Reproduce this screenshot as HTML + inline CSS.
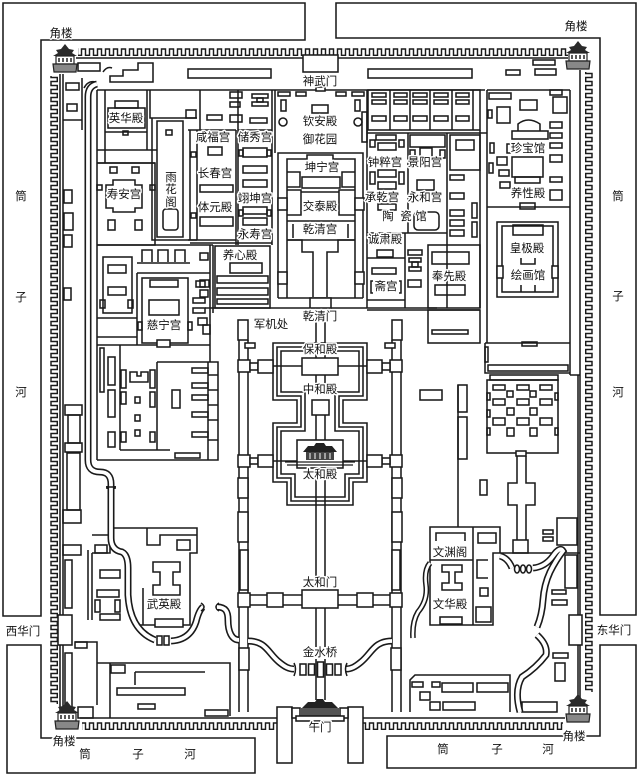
<!DOCTYPE html>
<html><head><meta charset="utf-8">
<style>
html,body{margin:0;padding:0;background:#fff;}
svg{display:block}
.l{fill:none;stroke:#1a1a1a;stroke-width:1.55}
.w{fill:#fff;stroke:#1a1a1a;stroke-width:1.55}
.t{font-family:"Liberation Sans","Noto Sans CJK SC",sans-serif;font-size:11.5px;fill:#111;text-anchor:middle;dominant-baseline:central;stroke:#fff;stroke-width:3px;paint-order:stroke;stroke-linejoin:round}
.rv{fill:none;stroke:#1a1a1a;stroke-width:7}
.rw{fill:none;stroke:#fff;stroke-width:3.8}
.rv2{fill:none;stroke:#1a1a1a;stroke-width:5.6}
.rw2{fill:none;stroke:#fff;stroke-width:2.6}
</style></head><body>
<svg width="640" height="776" viewBox="0 0 640 776" xmlns="http://www.w3.org/2000/svg">
<defs>
<pattern id="ct" x="0" y="48" width="8" height="8" patternUnits="userSpaceOnUse"><path d="M0,7.3 H1.5 V1 H5.5 V7.3 H8" fill="none" stroke="#1a1a1a" stroke-width="1.45"/></pattern>
<pattern id="cb" x="0" y="722" width="8" height="8" patternUnits="userSpaceOnUse"><path d="M0,7.3 H1.5 V1 H5.5 V7.3 H8" fill="none" stroke="#1a1a1a" stroke-width="1.45"/></pattern>
<pattern id="cl" x="50" y="0" width="8" height="8" patternUnits="userSpaceOnUse"><path d="M7.3,0 V1.5 H1 V5.5 H7.3 V8" fill="none" stroke="#1a1a1a" stroke-width="1.45"/></pattern>
<pattern id="cr" x="585" y="0" width="8" height="8" patternUnits="userSpaceOnUse"><path d="M0.7,0 V1.5 H7 V5.5 H0.7 V8" fill="none" stroke="#1a1a1a" stroke-width="1.45"/></pattern>
</defs>
<rect width="640" height="776" fill="#fff"/>

<!-- moat -->
<path class="l" d="M3,3 H305 V40 H41 V616 H3 Z"/>
<path class="l" d="M336,3 H636 V615 H600 V38 H336 Z"/>
<path class="l" d="M7,645 H41 V738 H255 V773 H7 Z"/>
<path class="l" d="M387,736 H600 V645 H636 V768 H387 Z"/>

<!-- walls -->
<rect x="78" y="48" width="490" height="8" fill="url(#ct)"/>
<path class="l" d="M76,58 H303 M338,58 H568"/>
<rect class="w" x="303" y="55" width="35" height="17"/>
<rect x="50" y="76" width="8" height="628" fill="url(#cl)"/>
<path class="l" d="M60,74 V712 M63,74 V712"/>
<rect x="585" y="72" width="8" height="620" fill="url(#cr)"/>
<path class="l" d="M580,70 V715"/>
<rect x="82" y="722" width="195" height="8" fill="url(#cb)"/>
<rect x="363" y="722" width="200" height="8" fill="url(#cb)"/>
<path class="l" d="M80,718 H277 M363,718 H565"/>

<!-- top strip -->
<rect class="l" x="78" y="63" width="22" height="8"/>
<path class="l" d="M110,82 V76 H123 V70 H138 V63 H153 V82 Z"/>
<path class="l" d="M103,72 q4,-6 9,-4 M84,88 q4,-8 12,-6"/>
<rect class="l" x="188" y="69" width="83" height="9"/>
<rect class="l" x="368" y="69" width="104" height="9"/>
<rect class="l" x="506" y="70" width="14" height="5"/>
<rect class="l" x="533" y="60" width="22" height="5"/>
<rect class="l" x="535" y="69" width="21" height="6"/>
<rect class="l" x="66" y="83" width="13" height="7"/>
<rect class="l" x="67" y="104" width="10" height="7"/>
<path class="l" d="M63,120 H82 M82,78 V130"/>
<rect class="l" x="64" y="190" width="8" height="13"/>
<rect class="l" x="64" y="213" width="9" height="17"/>
<rect class="l" x="64" y="235" width="8" height="12"/>
<rect class="l" x="64" y="288" width="7" height="12"/>
<rect class="l" x="65" y="405" width="17" height="10"/>
<rect class="l" x="68" y="415" width="12" height="28"/>
<rect class="l" x="65" y="443" width="17" height="9"/>
<rect class="l" x="67" y="453" width="13" height="57"/>

<!-- main inner lines -->
<path class="l" d="M97,90 H485 M97,90 V460"/>
<rect class="w" x="316" y="87" width="9" height="4"/>

<!-- 英华殿 -->
<path class="l" d="M105,90 V150 M105,132 H147 M147,90 V150 M97,150 H157 M97,163 H155 M105,150 V163"/>
<rect class="l" x="115" y="101" width="23" height="7"/>
<rect class="l" x="108" y="108" width="37" height="20"/>
<rect class="l" x="123" y="131" width="5" height="4"/>
<!-- 寿安宫 -->
<path class="l" d="M97,163 H155 V245 H97"/>
<path class="l" d="M113,180 H135 V185 H142 V208 H135 V212 H113 V208 H106 V185 H113 Z"/>
<rect class="l" x="110" y="167" width="7" height="6"/>
<rect class="l" x="132" y="167" width="7" height="6"/>
<rect class="l" x="108" y="220" width="7" height="10"/>
<rect class="l" x="135" y="220" width="7" height="10"/>
<rect class="l" x="97" y="185" width="5" height="5"/>
<rect class="l" x="150" y="185" width="5" height="5"/>
<!-- 雨花阁 -->
<path class="l" d="M150,90 V118 H197 M152,118 V240 H197 M157,121 H183 V237 H157 Z"/>
<rect class="l" x="166" y="130" width="6" height="5"/>
<rect class="l" x="163" y="209" width="15" height="21" rx="3"/>
<rect class="l" x="186" y="110" width="10" height="8"/>
<!-- 咸福 column -->
<path class="l" d="M188,130 H236 M190,130 V240 M197,130 V240 M236,130 V245 M188,240 H236 M200,90 V130"/>
<rect class="l" x="208" y="147" width="14" height="8"/>
<rect class="l" x="200" y="185" width="33" height="7"/>
<rect class="l" x="200" y="217" width="33" height="9"/>
<rect class="l" x="191" y="152" width="5" height="5"/>
<rect class="l" x="191" y="213" width="5" height="5"/>
<rect class="l" x="207" y="115" width="15" height="5"/>
<rect class="l" x="230" y="92" width="12" height="6"/>
<rect class="l" x="230" y="102" width="10" height="5"/>
<rect class="l" x="230" y="115" width="12" height="7"/>
<!-- 储秀 column -->
<path class="l" d="M238,90 V245 M272,90 V245 M238,130 H272 M190,243 H272"/>
<rect class="l" x="252" y="94" width="16" height="4"/>
<rect class="l" x="257" y="98" width="6" height="4"/>
<rect class="l" x="252" y="102" width="16" height="4"/>
<rect class="l" x="250" y="118" width="17" height="5"/>
<rect class="l" x="243" y="148" width="24" height="9"/>
<rect class="l" x="243" y="166" width="24" height="7"/>
<rect class="l" x="243" y="180" width="24" height="7"/>
<rect class="l" x="243" y="207" width="24" height="7"/>
<rect class="l" x="243" y="218" width="24" height="7"/>
<rect class="l" x="239" y="150" width="4" height="6"/>
<rect class="l" x="267" y="150" width="4" height="6"/>
<rect class="l" x="239" y="210" width="4" height="6"/>
<rect class="l" x="267" y="210" width="4" height="6"/>
<!-- 养心殿 -->
<rect class="l" x="215" y="246" width="55" height="62"/>
<rect class="l" x="230" y="263" width="32" height="10"/>
<rect class="l" x="217" y="276" width="51" height="7"/>
<rect class="l" x="217" y="288" width="51" height="7"/>
<rect class="l" x="217" y="299" width="51" height="5"/>
<rect class="l" x="200" y="253" width="8" height="7"/>
<rect class="l" x="200" y="280" width="9" height="7"/>
<rect class="l" x="200" y="290" width="8" height="7"/>
<rect class="l" x="198" y="318" width="9" height="7"/>
<rect class="l" x="203" y="325" width="7" height="9"/>
<path class="l" d="M142,262 V250 H152 V262 M158,262 V250 H168 V262 M175,262 V250 H185 V262 M137,263 H190"/>
<path class="l" d="M97,245 H213 M210,245 V362 M213,245 V313"/>

<!-- west compound -->
<rect class="l" x="103" y="257" width="29" height="56"/>
<rect class="l" x="108" y="265" width="18" height="8"/>
<rect class="l" x="108" y="287" width="18" height="8"/>
<rect class="l" x="100" y="300" width="5" height="8"/>
<rect class="l" x="128" y="300" width="5" height="8"/>
<path class="l" d="M97,318 H137 M97,337 H137 M97,345 H210 M137,273 V345 M137,273 H210"/>
<rect class="l" x="142" y="278" width="46" height="65"/>
<rect class="l" x="149" y="300" width="30" height="15"/>
<rect class="l" x="150" y="280" width="28" height="7"/>
<rect class="w" x="157" y="340" width="13" height="7"/>
<rect class="l" x="138" y="322" width="4" height="8"/>
<rect class="l" x="188" y="322" width="4" height="8"/>
<rect class="l" x="196" y="281" width="9" height="6"/>
<rect class="l" x="193" y="298" width="12" height="5"/>
<rect class="l" x="193" y="308" width="12" height="5"/>
<path class="l" d="M157,362 H218 V460 H97 M120,345 V450 M157,362 V450 M120,450 H170"/>
<path class="l" d="M130,372 H137 V376 H141 V372 H148 V382 H130 Z"/>
<rect class="l" x="135" y="397" width="5" height="6"/>
<rect class="l" x="135" y="415" width="5" height="6"/>
<rect class="l" x="135" y="430" width="5" height="6"/>
<rect class="l" x="121" y="370" width="5" height="18"/>
<rect class="l" x="150" y="370" width="5" height="18"/>
<rect class="l" x="121" y="392" width="5" height="12"/>
<rect class="l" x="150" y="392" width="5" height="15"/>
<rect class="l" x="121" y="432" width="5" height="10"/>
<rect class="l" x="150" y="432" width="5" height="10"/>
<rect class="l" x="100" y="348" width="4" height="44"/>
<rect class="l" x="108" y="357" width="7" height="28"/>
<rect class="l" x="108" y="390" width="7" height="27"/>
<rect class="l" x="108" y="432" width="7" height="15"/>
<rect class="l" x="172" y="390" width="8" height="18"/>
<rect class="l" x="192" y="368" width="16" height="5"/>
<rect class="l" x="192" y="383" width="16" height="5"/>
<rect class="l" x="192" y="395" width="16" height="5"/>
<rect class="l" x="192" y="412" width="16" height="5"/>
<rect class="l" x="192" y="432" width="16" height="5"/>
<path class="l" d="M208,362 V460 M208,375 H218 M208,390 H218 M208,405 H218 M208,420 H218 M208,440 H218"/>
<rect class="l" x="175" y="453" width="25" height="5"/>

<!-- lower west -->
<rect class="l" x="63" y="510" width="18" height="13"/>
<rect class="l" x="63" y="545" width="18" height="10"/>
<rect class="l" x="65" y="560" width="7" height="48"/>
<rect class="w" x="58" y="615" width="14" height="30"/>
<rect class="l" x="65" y="653" width="7" height="55"/>
<rect class="l" x="75" y="642" width="12" height="6"/>
<rect class="l" x="78" y="707" width="15" height="11"/>
<path class="l" d="M92,553 V620 M92,535 H110 V528 H197 V553 H190 V625 H140 M92,553 H110 V535 M147,528 V545 H160 V535 H197 M143,588 V625 M88,550 V620"/>
<path class="l" d="M153,562 H180 V572 H173 V585 H180 V595 H153 V585 H160 V572 H153 Z"/>
<rect class="l" x="177" y="540" width="13" height="10"/>
<rect class="w" x="155" y="619" width="28" height="8"/>
<rect class="l" x="95" y="545" width="12" height="8"/>
<rect class="l" x="100" y="570" width="20" height="8"/>
<rect class="l" x="97" y="590" width="22" height="7"/>
<rect class="l" x="95" y="600" width="5" height="12"/>
<rect class="l" x="115" y="600" width="5" height="12"/>
<rect class="l" x="100" y="614" width="20" height="6"/>
<path class="l" d="M75,642 H97 V705 M97,663 H230 V716 M135,672 H205 M135,672 V685 M110,663 V718"/>
<rect class="l" x="117" y="688" width="68" height="7"/>
<rect class="l" x="111" y="665" width="14" height="8"/>
<rect class="l" x="138" y="704" width="17" height="5"/>
<rect class="l" x="205" y="710" width="23" height="6"/>

<!-- garden & inner court -->
<path class="l" d="M275,90 V153 M367,90 V308"/>
<rect class="l" x="278" y="92" width="12" height="4"/>
<rect class="l" x="296" y="92" width="10" height="4"/>
<rect class="l" x="336" y="92" width="10" height="4"/>
<rect class="l" x="352" y="92" width="12" height="4"/>
<rect class="l" x="281" y="100" width="5" height="11"/>
<rect class="l" x="355" y="100" width="5" height="11"/>
<rect class="l" x="312" y="105" width="16" height="8"/>
<circle class="l" cx="283" cy="122" r="4"/>
<circle class="l" cx="358" cy="122" r="4"/>
<rect class="l" x="362" y="112" width="5" height="30"/>
<path class="l" d="M278,298 V153 H363 V298 M287,298 V159 H307 V155 H333 V159 H355 V298 M278,298 H363"/>
<rect class="w" x="278" y="198" width="9" height="12"/>
<rect class="w" x="355" y="198" width="9" height="12"/>
<rect class="w" x="278" y="272" width="9" height="12"/>
<rect class="w" x="355" y="272" width="9" height="12"/>
<rect class="l" x="302" y="177" width="38" height="11"/>
<path class="l" d="M287,172 H300 V187 H287 M355,172 H342 V187 H355"/>
<path class="l" d="M287,190 H301 V215 H287 M355,190 H339 V215 H355 M301,192 H339"/>
<path class="l" d="M287,221 H355 M287,240 H355 M293,224 V238 M348,224 V238"/>
<path class="l" d="M287,240 H302 V252 H313 V297 M355,240 H338 V252 H327 V297"/>
<rect class="w" x="310" y="298" width="21" height="10"/>
<path class="l" d="M205,308 H310 M331,308 H437"/>

<!-- east six palaces -->
<rect class="l" x="368" y="90" width="112" height="40"/>
<path class="l" d="M390,90 V130 M410,90 V130 M430,90 V130 M452,90 V130 M473,90 V130"/>
<g class="l">
<rect x="372" y="93" width="14" height="4"/><rect x="372" y="100" width="14" height="4"/><rect x="372" y="116" width="14" height="5"/>
<rect x="394" y="93" width="13" height="4"/><rect x="394" y="100" width="13" height="4"/><rect x="394" y="116" width="13" height="5"/>
<rect x="413" y="93" width="14" height="4"/><rect x="413" y="100" width="14" height="4"/><rect x="413" y="116" width="14" height="5"/>
<rect x="434" y="93" width="14" height="4"/><rect x="434" y="100" width="14" height="4"/><rect x="434" y="116" width="14" height="5"/>
<rect x="456" y="93" width="13" height="4"/><rect x="456" y="100" width="13" height="4"/><rect x="456" y="116" width="13" height="5"/>
</g>
<path class="l" d="M367,133 H487 M408,133 V233 M447,133 V308 M480,130 V308 M405,233 V308 M367,233 H447"/>
<rect class="l" x="376" y="135" width="20" height="5"/>
<rect class="l" x="378" y="143" width="18" height="7"/>
<rect class="l" x="370" y="140" width="5" height="7"/>
<rect class="l" x="399" y="140" width="5" height="7"/>
<rect class="l" x="378" y="170" width="18" height="7"/>
<rect class="l" x="378" y="182" width="18" height="7"/>
<rect class="l" x="370" y="172" width="5" height="12"/>
<rect class="l" x="399" y="172" width="5" height="12"/>
<rect class="l" x="410" y="135" width="35" height="12"/>
<rect class="l" x="420" y="148" width="12" height="9"/>
<rect class="l" x="417" y="180" width="17" height="10"/>
<rect class="l" x="410" y="150" width="5" height="8"/>
<rect class="l" x="440" y="150" width="5" height="8"/>
<rect class="l" x="414" y="212" width="25" height="18" rx="4"/>
<rect class="l" x="378" y="204" width="18" height="6"/>
<rect class="l" x="450" y="135" width="30" height="35"/>
<rect class="l" x="456" y="140" width="18" height="10"/>
<rect class="l" x="450" y="175" width="14" height="5"/>
<rect class="l" x="450" y="193" width="14" height="6"/>
<rect class="l" x="450" y="210" width="14" height="6"/>
<rect class="l" x="450" y="220" width="14" height="6"/>
<rect class="l" x="450" y="230" width="14" height="6"/>
<rect class="l" x="472" y="203" width="5" height="15"/>
<rect class="l" x="472" y="222" width="5" height="15"/>
<rect class="l" x="377" y="250" width="16" height="7"/>
<path class="l" d="M367,258 H405 M367,300 H405"/>
<rect class="l" x="372" y="268" width="24" height="6"/>
<path class="l" d="M373,281 H371 V293 H373 M399,281 H401 V293 H399"/>
<rect class="l" x="408" y="250" width="14" height="5"/>
<rect class="l" x="409" y="258" width="12" height="4"/>
<rect class="l" x="412" y="262" width="6" height="5"/>
<rect class="l" x="409" y="267" width="12" height="4"/>
<rect class="l" x="408" y="280" width="13" height="7"/>
<rect class="l" x="428" y="245" width="52" height="63"/>
<rect class="l" x="432" y="252" width="37" height="12"/>
<rect class="l" x="435" y="285" width="30" height="10"/>
<path class="l" d="M367,310 H480"/>
<rect class="l" x="428" y="310" width="52" height="33"/>
<rect class="l" x="432" y="330" width="36" height="4"/>

<!-- Ningshou palace -->
<path class="l" d="M487,90 V343 M570,90 V375 M487,90 H570 M487,207 H570 M570,375 H580"/>
<rect class="l" x="489" y="93" width="22" height="6"/>
<rect class="l" x="497" y="107" width="13" height="16"/>
<rect class="l" x="488" y="110" width="4" height="8"/>
<rect class="l" x="520" y="100" width="17" height="10"/>
<rect class="l" x="553" y="97" width="14" height="16"/>
<rect class="l" x="550" y="90" width="12" height="5"/>
<path class="l" d="M518,131 V124 Q528,116 540,124 V131"/>
<rect class="l" x="512" y="131" width="36" height="8"/>
<path class="l" d="M511,144 H507 V153 H511"/>
<rect class="l" x="490" y="143" width="4" height="10"/>
<rect class="l" x="497" y="157" width="10" height="8"/>
<rect class="l" x="499" y="170" width="10" height="6"/>
<rect class="l" x="489" y="163" width="4" height="10"/>
<rect class="l" x="500" y="182" width="10" height="6"/>
<rect class="l" x="512" y="157" width="31" height="20"/>
<rect class="l" x="515" y="177" width="25" height="6"/>
<rect class="l" x="550" y="122" width="12" height="6"/>
<rect class="l" x="550" y="133" width="12" height="5"/>
<rect class="l" x="550" y="143" width="12" height="5"/>
<rect class="l" x="550" y="155" width="12" height="7"/>
<rect class="l" x="550" y="177" width="12" height="5"/>
<rect class="l" x="550" y="190" width="12" height="10"/>
<rect class="l" x="520" y="203" width="15" height="6"/>
<rect class="l" x="497" y="222" width="61" height="75"/>
<rect class="l" x="502" y="226" width="51" height="66"/>
<rect class="l" x="513" y="225" width="30" height="10"/>
<path class="l" d="M521,258 V264 H535 V258 M521,285 V292 M535,285 V292"/>
<rect class="w" x="497" y="266" width="6" height="12"/>
<rect class="w" x="552" y="266" width="6" height="12"/>
<path class="l" d="M485,343 H570 M485,343 V373 H570"/>
<rect class="l" x="522" y="342" width="15" height="4"/>
<rect class="l" x="485" y="347" width="3" height="15"/>
<rect class="l" x="488" y="365" width="80" height="6"/>
<rect class="l" x="490" y="375" width="68" height="5"/>
<rect class="l" x="487" y="380" width="71" height="73"/>
<g class="l">
<rect x="493" y="385" width="12" height="5"/><rect x="517" y="385" width="12" height="5"/><rect x="540" y="385" width="12" height="5"/>
<rect x="507" y="391" width="6" height="6"/><rect x="530" y="391" width="6" height="6"/>
<rect x="493" y="399" width="12" height="6"/><rect x="517" y="399" width="12" height="6"/><rect x="540" y="399" width="12" height="6"/>
<rect x="507" y="408" width="7" height="7"/><rect x="530" y="408" width="7" height="7"/>
<rect x="493" y="418" width="12" height="7"/><rect x="517" y="418" width="12" height="7"/><rect x="540" y="418" width="12" height="7"/>
<rect x="507" y="428" width="7" height="8"/><rect x="530" y="428" width="7" height="8"/>
<rect x="487" y="393" width="3" height="7"/><rect x="487" y="410" width="3" height="7"/><rect x="487" y="428" width="3" height="7"/>
<rect x="555" y="393" width="3" height="7"/><rect x="555" y="428" width="3" height="7"/>
</g>
<rect class="w" x="516" y="451" width="10" height="5"/>
<path class="l" d="M517,456 V483 H508 V505 H517 V540 M526,456 V483 H535 V505 H526 V540"/>
<rect class="l" x="513" y="540" width="15" height="13"/>
<path class="l" d="M458,385 V527"/>
<rect class="l" x="458" y="385" width="9" height="27"/>
<rect class="l" x="458" y="417" width="9" height="42"/>
<rect class="l" x="420" y="390" width="22" height="10"/>
<rect class="l" x="480" y="480" width="7" height="15"/>
<path class="l" d="M578,375 V715"/>

<!-- lower east -->
<path class="l" d="M430,527 H500 V553 H493 V625 H430 Z M473,527 V625 M430,560 H473 M500,553 H580"/>
<path class="l" d="M436,541 V533 H465 V541"/>
<path class="l" d="M442,565 H462 V572 H455 V583 H462 V590 H442 V583 H449 V572 H442 Z"/>
<rect class="w" x="440" y="617" width="22" height="7"/>
<rect class="l" x="478" y="533" width="18" height="10"/>
<path class="l" d="M488,560 H477 V578 H488"/>
<rect class="l" x="480" y="588" width="8" height="8"/>
<rect class="l" x="476" y="607" width="15" height="15"/>
<rect class="l" x="557" y="518" width="20" height="27"/>
<rect class="l" x="543" y="530" width="10" height="4"/>
<rect class="l" x="543" y="537" width="10" height="4"/>
<rect class="l" x="565" y="555" width="12" height="33"/>
<rect class="l" x="552" y="590" width="14" height="4"/>
<rect class="l" x="552" y="600" width="15" height="5"/>
<rect class="w" x="569" y="615" width="13" height="30"/>
<rect class="l" x="553" y="653" width="15" height="5"/>
<rect class="l" x="555" y="663" width="10" height="18"/>
<path class="l" d="M410,712 V680 L415,675 H510 V712"/>
<rect class="l" x="412" y="682" width="11" height="5"/>
<rect class="l" x="432" y="682" width="8" height="5"/>
<rect class="l" x="442" y="683" width="31" height="9"/>
<rect class="l" x="477" y="683" width="31" height="9"/>
<rect class="l" x="420" y="692" width="10" height="8"/>
<rect class="l" x="430" y="702" width="10" height="8"/>
<rect class="l" x="443" y="702" width="32" height="8"/>
<rect class="l" x="522" y="702" width="35" height="10"/>

<!-- three great halls platform -->
<path class="l" d="M273,343 H367 V400 H343 V423 H367 V482 H353 V505 H287 V482 H273 V423 H297 V400 H273 Z"/>
<path class="l" d="M277,347 H363 V396 H339 V427 H363 V478 H349 V501 H291 V478 H277 V427 H301 V396 H277 Z"/>
<path class="l" d="M281,351 H359 V392 H335 V431 H359 V474 H345 V497 H295 V474 H281 V431 H305 V392 H281 Z"/>
<rect class="w" x="302" y="358" width="36" height="17"/>
<rect class="w" x="312" y="400" width="17" height="15"/>
<path class="l" d="M316,322 V358 M325,322 V358 M316,375 V384 M325,375 V384 M316,415 V440 M325,415 V440 M316,468 V577 M325,468 V577 M316,608 V647 M325,608 V647 M316,659 V700 M325,659 V700"/>
<rect class="w" x="297" y="440" width="46" height="28"/>
<path d="M285,462 H355 M287,465 H353" stroke="#1a1a1a" stroke-width="1.3"/>
<polygon points="303,452 308,446 314,446 316,443 324,443 326,446 332,446 337,452" fill="#222"/>
<rect x="306" y="452" width="28" height="8" fill="#444"/>
<path d="M310,453 v6 M315,453 v6 M320,453 v6 M325,453 v6 M330,453 v6" stroke="#fff" stroke-width="1"/>
<rect class="w" x="302" y="590" width="36" height="18"/>

<!-- center left half -->
<g>
<path class="l" d="M239,340 V712 M248,340 V712"/>
<rect class="w" x="238" y="320" width="10" height="20"/>
<rect class="w" x="245" y="343" width="10" height="5"/>
<rect class="w" x="238" y="360" width="12" height="12"/>
<rect class="w" x="250" y="363" width="8" height="7"/>
<rect class="w" x="258" y="360" width="15" height="13"/>
<path class="l" d="M273,366 H302"/>
<rect class="w" x="238" y="455" width="12" height="12"/>
<rect class="w" x="250" y="458" width="8" height="6"/>
<rect class="w" x="258" y="455" width="15" height="12"/>
<path class="l" d="M273,461 H297"/>
<rect class="w" x="238" y="478" width="10" height="20"/>
<rect class="w" x="238" y="512" width="10" height="30"/>
<rect class="w" x="240" y="550" width="8" height="40"/>
<rect class="w" x="238" y="593" width="12" height="14"/>
<path class="l" d="M250,595 H302 M250,605 H302"/>
<rect class="w" x="267" y="593" width="16" height="14"/>
<rect class="w" x="239" y="648" width="10" height="22"/>
</g>
<g transform="matrix(-1 0 0 1 640 0)">
<path class="l" d="M239,340 V712 M248,340 V712"/>
<rect class="w" x="238" y="320" width="10" height="20"/>
<rect class="w" x="245" y="343" width="10" height="5"/>
<rect class="w" x="238" y="360" width="12" height="12"/>
<rect class="w" x="250" y="363" width="8" height="7"/>
<rect class="w" x="258" y="360" width="15" height="13"/>
<path class="l" d="M273,366 H302"/>
<rect class="w" x="238" y="455" width="12" height="12"/>
<rect class="w" x="250" y="458" width="8" height="6"/>
<rect class="w" x="258" y="455" width="15" height="12"/>
<path class="l" d="M273,461 H297"/>
<rect class="w" x="238" y="478" width="10" height="20"/>
<rect class="w" x="238" y="512" width="10" height="30"/>
<rect class="w" x="240" y="550" width="8" height="40"/>
<rect class="w" x="238" y="593" width="12" height="14"/>
<path class="l" d="M250,595 H302 M250,605 H302"/>
<rect class="w" x="267" y="593" width="16" height="14"/>
<rect class="w" x="239" y="648" width="10" height="22"/>
</g>

<!-- rivers -->
<path class="rv" d="M97,84 Q88,86 88,97 V460 Q88,472 100,472 Q111,472 111,484 V538 Q111,550 122,552 Q128,555 128,568 V595 Q130,630 155,640"/>
<path class="rw" d="M97,84 Q88,86 88,97 V460 Q88,472 100,472 Q111,472 111,484 V538 Q111,550 122,552 Q128,555 128,568 V595 Q130,630 155,640"/>
<path class="l" d="M106,487 H116 M107,486 V489 M115,486 V489"/>
<path class="rv" d="M171,641 Q190,640 196,622 Q199,610 203,607"/>
<path class="rw" d="M171,641 Q190,640 196,622 Q199,610 203,607"/>
<rect class="l" x="157" y="636" width="5" height="9"/>
<rect class="l" x="164" y="636" width="5" height="9"/>
<path class="l" d="M201,603 Q207,607 201,611 M219,603 Q213,607 219,611"/>
<path class="rv" d="M217,607 C226,607 228,612 228,620 C228,632 232,640 239,640"/>
<path class="rw" d="M217,607 C226,607 228,612 228,620 C228,632 232,640 239,640"/>
<path class="rv" d="M248,641 C266,641 268,653 279,662 C285,667 289,669 294,669"/>
<path class="rw" d="M248,641 C266,641 268,653 279,662 C285,667 289,669 294,669"/>
<path class="rv" d="M392,641 C374,641 372,653 361,662 C355,667 351,669 346,669"/>
<path class="rw" d="M392,641 C374,641 372,653 361,662 C355,667 351,669 346,669"/>
<rect class="w" x="300" y="664" width="6" height="11"/>
<rect class="w" x="308.5" y="664" width="6" height="11"/>
<rect class="w" x="317.5" y="662" width="6" height="15"/>
<rect class="w" x="326.5" y="664" width="6" height="11"/>
<rect class="w" x="335" y="664" width="6" height="11"/>
<path class="l" d="M294,663 Q297,669 294,676 M347,663 Q344,669 347,676"/>
<path class="rv2" d="M430,563 Q424,570 426,585 Q428,600 418,612 Q412,622 413,638"/>
<path class="rw2" d="M430,563 Q424,570 426,585 Q428,600 418,612 Q412,622 413,638"/>
<path class="rv" d="M500,556 Q508,558 512,568"/>
<path class="rw" d="M500,556 Q508,558 512,568"/>
<ellipse class="l" cx="517" cy="569" rx="2.5" ry="4"/>
<ellipse class="l" cx="523" cy="569" rx="2.5" ry="4"/>
<ellipse class="l" cx="529" cy="569" rx="2.5" ry="4"/>
<path class="rv" d="M533,568 Q545,567 553,556 Q560,546 563,551 Q556,560 550,572 Q544,585 543,600 Q542,615 537,627"/>
<path class="rw" d="M533,568 Q545,567 553,556 Q560,546 563,551 Q556,560 550,572 Q544,585 543,600 Q542,615 537,627"/>
<path class="rv" d="M537,635 Q548,645 546,655 Q536,668 522,677 Q514,690 520,712"/>
<path class="rw" d="M537,635 Q548,645 546,655 Q536,668 522,677 Q514,690 520,712"/>

<!-- Wumen -->
<rect class="w" x="277" y="707" width="15" height="56"/>
<rect class="w" x="348" y="707" width="15" height="56"/>
<path class="l" d="M292,712 H348"/>
<rect class="w" x="292" y="708" width="8" height="10"/>
<rect class="w" x="340" y="708" width="8" height="10"/>
<polygon points="302,708 308,702 315,702 317,699 323,699 325,702 332,702 338,708" fill="#222"/>
<rect x="300" y="708" width="40" height="8" fill="#555"/>
<rect class="w" x="296" y="716" width="48" height="5"/>

<!-- corner towers -->
<g transform="translate(52,43)">
<path d="M13,1 L9,6 L4,7 L6,10 L1,13 H25 L20,10 L22,7 L17,6 Z" fill="#2a2a2a"/>
<rect x="4" y="13" width="18" height="8" fill="#fff" stroke="#222" stroke-width="1.2"/>
<path d="M7,15 v4 M11,15 v4 M15,15 v4 M19,15 v4" stroke="#222" stroke-width="1.5"/>
<path d="M1,21 H25 L24,29 H2 Z" fill="#888" stroke="#222" stroke-width="1.2"/>
</g>
<g transform="translate(565,40)">
<path d="M13,1 L9,6 L4,7 L6,10 L1,13 H25 L20,10 L22,7 L17,6 Z" fill="#2a2a2a"/>
<rect x="4" y="13" width="18" height="8" fill="#fff" stroke="#222" stroke-width="1.2"/>
<path d="M7,15 v4 M11,15 v4 M15,15 v4 M19,15 v4" stroke="#222" stroke-width="1.5"/>
<path d="M1,21 H25 L24,29 H2 Z" fill="#888" stroke="#222" stroke-width="1.2"/>
</g>
<g transform="translate(54,700)">
<path d="M13,1 L9,6 L4,7 L6,10 L1,13 H25 L20,10 L22,7 L17,6 Z" fill="#2a2a2a"/>
<rect x="4" y="13" width="18" height="8" fill="#fff" stroke="#222" stroke-width="1.2"/>
<path d="M7,15 v4 M11,15 v4 M15,15 v4 M19,15 v4" stroke="#222" stroke-width="1.5"/>
<path d="M1,21 H25 L24,29 H2 Z" fill="#888" stroke="#222" stroke-width="1.2"/>
</g>
<g transform="translate(565,693)">
<path d="M13,1 L9,6 L4,7 L6,10 L1,13 H25 L20,10 L22,7 L17,6 Z" fill="#2a2a2a"/>
<rect x="4" y="13" width="18" height="8" fill="#fff" stroke="#222" stroke-width="1.2"/>
<path d="M7,15 v4 M11,15 v4 M15,15 v4 M19,15 v4" stroke="#222" stroke-width="1.5"/>
<path d="M1,21 H25 L24,29 H2 Z" fill="#888" stroke="#222" stroke-width="1.2"/>
</g>

<!-- labels -->
<g class="t">
<text x="61" y="34">角楼</text>
<text x="576" y="27">角楼</text>
<text x="64" y="742">角楼</text>
<text x="574" y="737">角楼</text>
<text x="21" y="197">筒</text><text x="21" y="298">子</text><text x="21" y="393">河</text>
<text x="618" y="197">筒</text><text x="618" y="297">子</text><text x="618" y="393">河</text>
<text x="85" y="755">筒</text><text x="138" y="755">子</text><text x="190" y="755">河</text>
<text x="443" y="750">筒</text><text x="497" y="750">子</text><text x="548" y="750">河</text>
<text x="23" y="632">西华门</text>
<text x="614" y="631">东华门</text>
<text x="320" y="82">神武门</text>
<text x="320" y="122">钦安殿</text>
<text x="320" y="140">御花园</text>
<text x="322" y="168">坤宁宫</text>
<text x="320" y="207">交泰殿</text>
<text x="320" y="230">乾清宫</text>
<text x="320" y="317">乾清门</text>
<text x="271" y="325">军机处</text>
<text x="320" y="350">保和殿</text>
<text x="320" y="390">中和殿</text>
<text x="320" y="475">太和殿</text>
<text x="320" y="583">太和门</text>
<text x="320" y="653">金水桥</text>
<text x="320" y="728">午门</text>
<text x="126" y="119">英华殿</text>
<text x="124" y="195">寿安宫</text>
<text x="171" y="178">雨</text><text x="171" y="190">花</text><text x="171" y="203">阁</text>
<text x="213" y="138">咸福宫</text>
<text x="255" y="138">储秀宫</text>
<text x="215" y="174">长春宫</text>
<text x="255" y="199">翊坤宫</text>
<text x="215" y="208">体元殿</text>
<text x="255" y="235">永寿宫</text>
<text x="240" y="256">养心殿</text>
<text x="164" y="326">慈宁宫</text>
<text x="164" y="605">武英殿</text>
<text x="385" y="163">钟粹宫</text>
<text x="425" y="163">景阳宫</text>
<text x="382" y="198">承乾宫</text>
<text x="425" y="198">永和宫</text>
<text x="388" y="217">陶</text><text x="406" y="217">瓷</text><text x="421" y="217">馆</text>
<text x="385" y="240">诚肃殿</text>
<text x="386" y="287">斋宫</text>
<text x="449" y="277">奉先殿</text>
<text x="528" y="149">珍宝馆</text>
<text x="528" y="194">养性殿</text>
<text x="527" y="249">皇极殿</text>
<text x="528" y="276">绘画馆</text>
<text x="450" y="553">文渊阁</text>
<text x="450" y="605">文华殿</text>
</g>
</svg>
</body></html>
